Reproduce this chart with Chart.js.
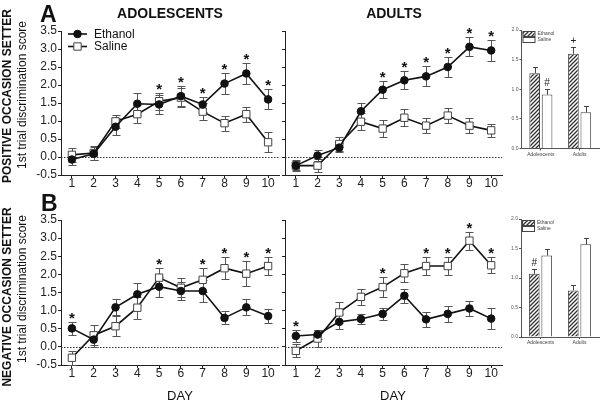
<!DOCTYPE html>
<html>
<head>
<meta charset="utf-8">
<script src="https://cdn.jsdelivr.net/npm/chart.js@4.4.1/dist/chart.umd.min.js"></script>
<style>
  body { margin: 0; background: #fff; }
  #wrap { position: relative; width: 605px; height: 405px; overflow: hidden;
          font-family: "Liberation Sans", Arial, sans-serif; color: #111; }
  canvas { position: absolute; left: 0; top: 0; }
  .t { position: absolute; white-space: nowrap; line-height: 1; }
  .c { transform: translateX(-50%); }
  .rot { transform: translate(-50%, -50%) rotate(-90deg); }
</style>
</head>
<body>
<div id="wrap">
  <canvas id="aAdol" width="605" height="405"></canvas>
  <canvas id="aAdult" width="605" height="405"></canvas>
  <canvas id="aBar" width="605" height="405"></canvas>
  <canvas id="bAdol" width="605" height="405"></canvas>
  <canvas id="bAdult" width="605" height="405"></canvas>
  <canvas id="bBar" width="605" height="405"></canvas>

  <div class="t" style="left:40px;top:3px;font-size:23px;font-weight:bold">A</div>
  <div class="t" style="left:41px;top:192px;font-size:23px;font-weight:bold">B</div>
  <div class="t c" style="left:170px;top:6px;font-size:14px;font-weight:bold">ADOLESCENTS</div>
  <div class="t c" style="left:394px;top:6px;font-size:14px;font-weight:bold">ADULTS</div>
  <div class="t rot" style="left:7px;top:96px;font-size:12px;font-weight:bold">POSITIVE OCCASION SETTER</div>
  <div class="t rot" style="left:22px;top:95px;font-size:12px">1st trial discrimination score</div>
  <div class="t rot" style="left:7px;top:297px;font-size:12px;font-weight:bold">NEGATIVE OCCASION SETTER</div>
  <div class="t rot" style="left:22px;top:289px;font-size:12px">1st trial discrimination score</div>
  <div class="t c" style="left:180px;top:389px;font-size:13px">DAY</div>
  <div class="t c" style="left:393px;top:389px;font-size:13px">DAY</div>
</div>

<script>
const FONT = '"Liberation Sans", Arial, sans-serif';

// days of training
const days = ['1', '2', '3', '4', '5', '6', '7', '8', '9', '10'];

// A: positive occasion setter
const posAdolEthanol = [-0.07, 0.09, 0.84, 1.48, 1.46, 1.69, 1.46, 2.04, 2.32, 1.60];
const posAdolEthanolSem = [0.16, 0.18, 0.24, 0.30, 0.27, 0.28, 0.22, 0.28, 0.29, 0.28];
const posAdolSaline = [0.06, 0.11, 0.99, 1.19, 1.55, 1.65, 1.26, 0.94, 1.19, 0.41];
const posAdolSalineSem = [0.20, 0.20, 0.19, 0.25, 0.24, 0.27, 0.24, 0.21, 0.21, 0.28];
const posAdolStars = [5, 6, 7, 8, 9, 10];

const posAdultEthanol = [-0.24, 0.04, 0.26, 1.27, 1.87, 2.13, 2.24, 2.50, 3.06, 2.96];
const posAdultEthanolSem = [0.12, 0.16, 0.12, 0.22, 0.23, 0.25, 0.28, 0.27, 0.26, 0.28];
const posAdultSaline = [-0.24, -0.24, 0.36, 0.98, 0.79, 1.09, 0.87, 1.15, 0.87, 0.74];
const posAdultSalineSem = [0.15, 0.19, 0.20, 0.23, 0.23, 0.23, 0.20, 0.20, 0.20, 0.18];
const posAdultStars = [5, 6, 7, 8, 9, 10];

// B: negative occasion setter
const negAdolEthanol = [0.51, 0.20, 1.09, 1.45, 1.66, 1.54, 1.54, 0.80, 1.09, 0.85];
const negAdolEthanolSem = [0.17, 0.20, 0.22, 0.30, 0.28, 0.24, 0.30, 0.18, 0.22, 0.20];
const negAdolSaline = [-0.30, 0.32, 0.57, 1.08, 1.91, 1.63, 1.85, 2.17, 2.02, 2.23];
const negAdolSalineSem = [0.20, 0.27, 0.28, 0.30, 0.27, 0.26, 0.33, 0.31, 0.34, 0.25];
const negAdolStars = [1, 5, 7, 8, 9, 10];

const negAdultEthanol = [0.30, 0.34, 0.69, 0.77, 0.91, 1.41, 0.76, 0.91, 1.06, 0.78];
const negAdultEthanolSem = [0.17, 0.12, 0.21, 0.15, 0.17, 0.20, 0.21, 0.23, 0.20, 0.28];
const negAdultSaline = [-0.11, 0.23, 0.95, 1.38, 1.65, 2.03, 2.23, 2.23, 2.93, 2.25];
const negAdultSalineSem = [0.18, 0.23, 0.30, 0.23, 0.28, 0.25, 0.25, 0.25, 0.25, 0.22];
const negAdultStars = [1, 5, 7, 8, 9, 10];

// summary bars
const groups = ['Adolescents', 'Adults'];
const posBarEthanol = [1.27, 1.60];
const posBarEthanolSem = [0.10, 0.11];
const posBarEthanolMarks = ['', '+'];
const posBarSaline = [0.91, 0.61];
const posBarSalineSem = [0.09, 0.10];
const posBarSalineMarks = ['#', ''];

const negBarEthanol = [1.07, 0.79];
const negBarEthanolSem = [0.09, 0.09];
const negBarEthanolMarks = ['#', ''];
const negBarSaline = [1.38, 1.57];
const negBarSalineSem = [0.11, 0.11];
const negBarSalineMarks = ['', ''];

// error bars (sem stored on each dataset)
const errorBars = {
  id: 'errorBars',
  beforeDatasetsDraw(chart, args, opts) { if (!opts.front) draw(chart, opts); },
  afterDatasetsDraw(chart, args, opts) { if (opts.front) draw(chart, opts); }
};
function draw(chart, opts) {
  const ctx = chart.ctx, y = chart.scales.y;
  ctx.save();
  ctx.strokeStyle = opts.color;
  ctx.lineWidth = 1;
  chart.data.datasets.forEach((ds, i) => {
    chart.getDatasetMeta(i).data.forEach((el, j) => {
      const v = ds.data[j], e = ds.sem[j];
      const top = Math.round(y.getPixelForValue(v + e)) + 0.5;
      const bot = opts.upOnly ? y.getPixelForValue(v) : Math.round(y.getPixelForValue(v - e)) + 0.5;
      const x = Math.round(el.x) + 0.5;
      ctx.beginPath();
      ctx.moveTo(x, top); ctx.lineTo(x, bot);
      ctx.moveTo(x - opts.cap, top); ctx.lineTo(x + opts.cap, top);
      if (!opts.upOnly) { ctx.moveTo(x - opts.cap, bot); ctx.lineTo(x + opts.cap, bot); }
      ctx.stroke();
    });
  });
  ctx.restore();
}

// dotted line at zero
const zeroLine = {
  id: 'zeroLine',
  beforeDatasetsDraw(chart) {
    const { ctx, chartArea } = chart;
    const y0 = Math.round(chart.scales.y.getPixelForValue(0)) + 0.5;
    ctx.save();
    ctx.strokeStyle = '#333';
    ctx.lineWidth = 1;
    ctx.setLineDash([1.5, 1.5]);
    ctx.beginPath();
    ctx.moveTo(chartArea.left, y0); ctx.lineTo(chartArea.right, y0);
    ctx.stroke();
    ctx.restore();
  }
};

// significance asterisks above the higher error bar
const stars = {
  id: 'stars',
  afterDatasetsDraw(chart, args, opts) {
    if (!opts.days) return;
    const ctx = chart.ctx, y = chart.scales.y;
    ctx.save();
    ctx.fillStyle = '#111';
    ctx.font = opts.font;
    ctx.textAlign = 'center';
    ctx.textBaseline = 'alphabetic';
    opts.days.forEach(d => {
      const j = days.indexOf(String(d));
      let top = Infinity, x = 0;
      chart.data.datasets.forEach((ds, i) => {
        const el = chart.getDatasetMeta(i).data[j];
        x = el.x;
        top = Math.min(top, y.getPixelForValue(ds.data[j] + ds.sem[j]));
      });
      ctx.fillText('*', x, top + opts.shift);
    });
    ctx.restore();
  }
};

// marks (#, +) above bars
const barMarks = {
  id: 'barMarks',
  afterDatasetsDraw(chart, args, opts) {
    const ctx = chart.ctx, y = chart.scales.y;
    ctx.save();
    ctx.fillStyle = '#222';
    ctx.font = opts.font;
    ctx.textAlign = 'center';
    ctx.textBaseline = 'alphabetic';
    chart.data.datasets.forEach((ds, i) => {
      chart.getDatasetMeta(i).data.forEach((el, j) => {
        if (ds.marks[j]) ctx.fillText(ds.marks[j], el.x, y.getPixelForValue(ds.data[j] + ds.sem[j]) - opts.gap);
      });
    });
    ctx.restore();
  }
};

// legend for the line panel
const lineLegend = {
  id: 'lineLegend',
  afterDraw(chart, args, opts) {
    if (!opts.show) return;
    const ctx = chart.ctx;
    ctx.save();
    chart.data.datasets.forEach((ds, i) => {
      const yy = opts.y + i * opts.gap;
      const cx = opts.x + opts.len / 2;
      ctx.strokeStyle = ds.borderColor;
      ctx.lineWidth = ds.borderWidth;
      ctx.beginPath(); ctx.moveTo(opts.x, yy); ctx.lineTo(opts.x + opts.len, yy); ctx.stroke();
      ctx.fillStyle = ds.pointBackgroundColor;
      ctx.strokeStyle = ds.pointBorderColor;
      ctx.lineWidth = 1;
      ctx.beginPath();
      if (ds.pointStyle === 'rect') {
        const s = ds.pointRadius * Math.SQRT1_2;
        ctx.rect(cx - s, yy - s, 2 * s, 2 * s);
      } else {
        ctx.arc(cx, yy, ds.pointRadius, 0, Math.PI * 2);
      }
      ctx.fill(); ctx.stroke();
      ctx.fillStyle = '#111';
      ctx.font = '12px ' + FONT;
      ctx.textBaseline = 'middle';
      ctx.fillText(ds.label, opts.x + opts.len + 7, yy + 0.5);
    });
    ctx.restore();
  }
};

// legend for the bar panels
const barLegend = {
  id: 'barLegend',
  afterDraw(chart, args, opts) {
    const ctx = chart.ctx;
    ctx.save();
    chart.data.datasets.forEach((ds, i) => {
      const yy = opts.y + i * opts.gap;
      ctx.fillStyle = ds.backgroundColor;
      ctx.fillRect(opts.x, yy, 12, 5);
      ctx.strokeStyle = '#444';
      ctx.lineWidth = 1;
      ctx.strokeRect(opts.x + 0.5, yy + 0.5, 12, 5);
      ctx.fillStyle = '#444';
      ctx.font = '5px ' + FONT;
      ctx.textBaseline = 'middle';
      ctx.fillText(ds.label, opts.x + 15, yy + 3);
    });
    ctx.restore();
  }
};

function lineChart(id, eth, ethSem, sal, salSem, starDays, box, showLabels, showLegend) {
  const yw = showLabels ? 31 : 4;
  return new Chart(document.getElementById(id), {
    type: 'line',
    data: {
      labels: days,
      datasets: [
        { label: 'Ethanol', data: eth, sem: ethSem, borderColor: '#111', borderWidth: 1.6,
          pointStyle: 'circle', pointRadius: 3.8, pointBackgroundColor: '#111',
          pointBorderColor: '#111', pointBorderWidth: 1, tension: 0 },
        { label: 'Saline', data: sal, sem: salSem, borderColor: '#111', borderWidth: 1.6,
          pointStyle: 'rect', pointRadius: 5.2, pointBackgroundColor: '#fff',
          pointBorderColor: '#444', pointBorderWidth: 1, tension: 0 }
      ]
    },
    options: {
      responsive: false,
      animation: false,
      devicePixelRatio: 1,
      layout: { padding: { left: box.l - yw, right: 605 - box.r, top: box.t, bottom: 405 - box.b - 20 } },
      scales: {
        x: {
          type: 'category',
          offset: true,
          grid: { drawOnChartArea: false, tickLength: 3, color: '#222', offset: false },
          border: { color: '#222', width: 1 },
          ticks: { color: '#222', font: { size: 12, family: FONT }, padding: -2, maxRotation: 0, autoSkip: false },
          afterFit: s => { s.height = 20; }
        },
        y: {
          min: -0.5, max: 3.5,
          grid: { drawOnChartArea: false, tickLength: 3, color: '#222' },
          border: { color: '#222', width: 1 },
          ticks: { stepSize: 0.5, display: showLabels, color: '#222', padding: 1,
                   font: { size: 12, family: FONT }, callback: v => v.toFixed(1) },
          afterFit: s => { s.width = yw; }
        }
      },
      plugins: {
        legend: { display: false },
        tooltip: { enabled: false },
        errorBars: { color: '#555', cap: 4, upOnly: false, front: false },
        stars: { days: starDays, font: 'bold 15px ' + FONT, shift: 1 },
        lineLegend: { show: showLegend, x: 68, y: 34, gap: 12.5, len: 19 }
      }
    },
    plugins: [zeroLine, errorBars, stars, lineLegend]
  });
}

function makeHatch(canvas) {
  const c = document.createElement('canvas');
  c.width = 4; c.height = 4;
  const g = c.getContext('2d');
  g.fillStyle = '#fff'; g.fillRect(0, 0, 4, 4);
  g.strokeStyle = '#333'; g.lineWidth = 1.3;
  g.beginPath();
  g.moveTo(-1, 5); g.lineTo(5, -1);
  g.moveTo(-1, 1); g.lineTo(1, -1);
  g.moveTo(3, 5); g.lineTo(5, 3);
  g.stroke();
  return canvas.getContext('2d').createPattern(c, 'repeat');
}

function barChart(id, eth, ethSem, ethMarks, sal, salSem, salMarks, box, legendY) {
  const canvas = document.getElementById(id);
  const yw = 11;
  return new Chart(canvas, {
    type: 'bar',
    data: {
      labels: groups,
      datasets: [
        { label: 'Ethanol', data: eth, sem: ethSem, marks: ethMarks, backgroundColor: makeHatch(canvas),
          borderColor: '#444', borderWidth: 1, categoryPercentage: 0.64, barPercentage: 0.86 },
        { label: 'Saline', data: sal, sem: salSem, marks: salMarks, backgroundColor: '#fff',
          borderColor: '#444', borderWidth: 1, categoryPercentage: 0.64, barPercentage: 0.86 }
      ]
    },
    options: {
      responsive: false,
      animation: false,
      devicePixelRatio: 1,
      layout: { padding: { left: box.l - yw, right: 605 - box.r, top: box.t, bottom: 405 - box.b - 12 } },
      scales: {
        x: {
          grid: { drawOnChartArea: false, tickLength: 2, color: '#555', offset: false },
          border: { color: '#555', width: 1 },
          ticks: { color: '#444', font: { size: 5, family: FONT }, padding: 1, maxRotation: 0 },
          afterFit: s => { s.height = 12; }
        },
        y: {
          min: 0, max: 2,
          grid: { drawOnChartArea: false, tickLength: 2, color: '#555' },
          border: { color: '#555', width: 1 },
          ticks: { stepSize: 0.5, color: '#555', padding: 1, font: { size: 5, family: FONT },
                   callback: v => v.toFixed(1) },
          afterFit: s => { s.width = yw; }
        }
      },
      plugins: {
        legend: { display: false },
        tooltip: { enabled: false },
        errorBars: { color: '#444', cap: 2.5, upOnly: true, front: true },
        barMarks: { font: '10px ' + FONT, gap: 3 },
        barLegend: { x: box.l + 1, y: legendY, gap: 6 }
      }
    },
    plugins: [errorBars, barMarks, barLegend]
  });
}

lineChart('aAdol', posAdolEthanol, posAdolEthanolSem, posAdolSaline, posAdolSalineSem, posAdolStars,
  { l: 61, r: 279, t: 31, b: 175 }, true, true);
lineChart('aAdult', posAdultEthanol, posAdultEthanolSem, posAdultSaline, posAdultSalineSem, posAdultStars,
  { l: 285, r: 502, t: 31, b: 175 }, false, false);
lineChart('bAdol', negAdolEthanol, negAdolEthanolSem, negAdolSaline, negAdolSalineSem, negAdolStars,
  { l: 61, r: 279, t: 220, b: 365 }, true, false);
lineChart('bAdult', negAdultEthanol, negAdultEthanolSem, negAdultSaline, negAdultSalineSem, negAdultStars,
  { l: 285, r: 502, t: 220, b: 365 }, false, false);

barChart('aBar', posBarEthanol, posBarEthanolSem, posBarEthanolMarks, posBarSaline, posBarSalineSem, posBarSalineMarks,
  { l: 521.5, r: 599, t: 30, b: 148.5 }, 31);
barChart('bBar', negBarEthanol, negBarEthanolSem, negBarEthanolMarks, negBarSaline, negBarSalineSem, negBarSalineMarks,
  { l: 521, r: 599, t: 219, b: 337 }, 220);
</script>
</body>
</html>
